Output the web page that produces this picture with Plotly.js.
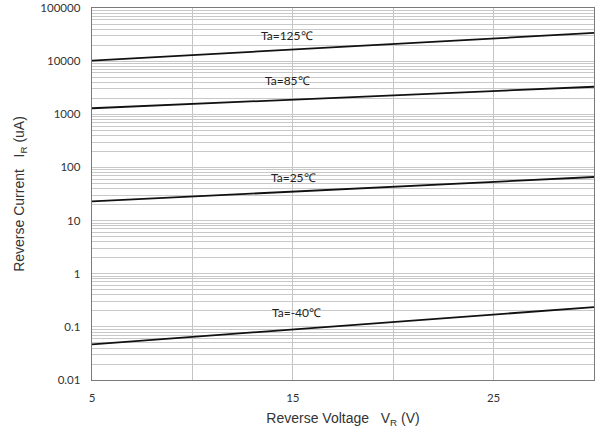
<!DOCTYPE html>
<html><head><meta charset="utf-8">
<script src="https://cdn.plot.ly/plotly-3.0.1.min.js"></script>
<style>html,body{margin:0;padding:0;background:#fff}#chart{width:595px;height:433px}</style>
</head><body><div id="chart"></div>
<script>
const voltage = [5, 30];
const ta125 = [10200, 34000];
const ta85 = [1300, 3300];
const ta25 = [23, 66];
const taM40 = [0.047, 0.235];
const seriesNames = ["Ta=125℃", "Ta=85℃", "Ta=25℃", "Ta=-40℃"];
const labelX = [14.7, 14.75, 15.05, 15.2];
const labelY = [31000, 4400, 66, 0.19];
const xTicks = [5, 10, 15, 20, 25];
const xTickText = ["5", "", "15", "", "25"];

const yVals = [], yText = [];
for (let e = -2; e <= 5; e++) {
  for (let k = 1; k <= 9; k++) {
    if (e === 5 && k > 1) break;
    yVals.push(k * Math.pow(10, e));
    yText.push(k === 1 ? String(Number((Math.pow(10, e)).toPrecision(1))) : "");
  }
}

const allSeries = [ta125, ta85, ta25, taM40];
const traces = allSeries.map((s, i) => ({
  x: voltage, y: s, type: "scatter", mode: "lines", name: seriesNames[i],
  line: {color: "#111", width: 1.8}, showlegend: false, hoverinfo: "skip"
}));

const annotations = seriesNames.map((t, i) => ({
  x: labelX[i], y: Math.log10(labelY[i]), xref: "x", yref: "y", text: t,
  showarrow: false, font: {family: "Lato, 'Open Sans', sans-serif", size: 12, color: "#222"}
}));

const layout = {
  width: 595, height: 433,
  margin: {l: 92, r: 1, t: 8, b: 53},
  paper_bgcolor: "#fff", plot_bgcolor: "#fff",
  xaxis: {
    range: [5, 30], tickvals: xTicks, ticktext: xTickText,
    showgrid: true, gridcolor: "#c4c4c4", gridwidth: 1,
    zeroline: false, showline: true, linecolor: "#7a7a7a", linewidth: 1.3, mirror: true,
    ticks: "", ticklabelstandoff: 7,
    tickfont: {family: "Lato, 'Open Sans', sans-serif", size: 11.5, color: "#333"},
    title: {text: "Reverse Voltage&nbsp;&nbsp;&nbsp;V<sub>R</sub> (V)", font: {family: "'Liberation Sans', Arial, sans-serif", size: 14, color: "#333"}, standoff: 10}
  },
  yaxis: {
    type: "log", range: [-2, 5], tickvals: yVals, ticktext: yText,
    showgrid: true, gridcolor: "#c8c8c8", gridwidth: 1,
    zeroline: false, showline: true, linecolor: "#7a7a7a", linewidth: 1.3, mirror: true,
    ticks: "", ticklabelstandoff: 8,
    tickfont: {family: "Lato, 'Open Sans', sans-serif", size: 11.5, color: "#333"},
    title: {text: "Reverse Current&nbsp;&nbsp;&nbsp;I<sub>R</sub> (uA)", font: {family: "'Liberation Sans', Arial, sans-serif", size: 14, color: "#333"}, standoff: 12}
  },
  annotations: annotations
};
Plotly.newPlot("chart", traces, layout, {staticPlot: true, displayModeBar: false});
</script></body></html>
